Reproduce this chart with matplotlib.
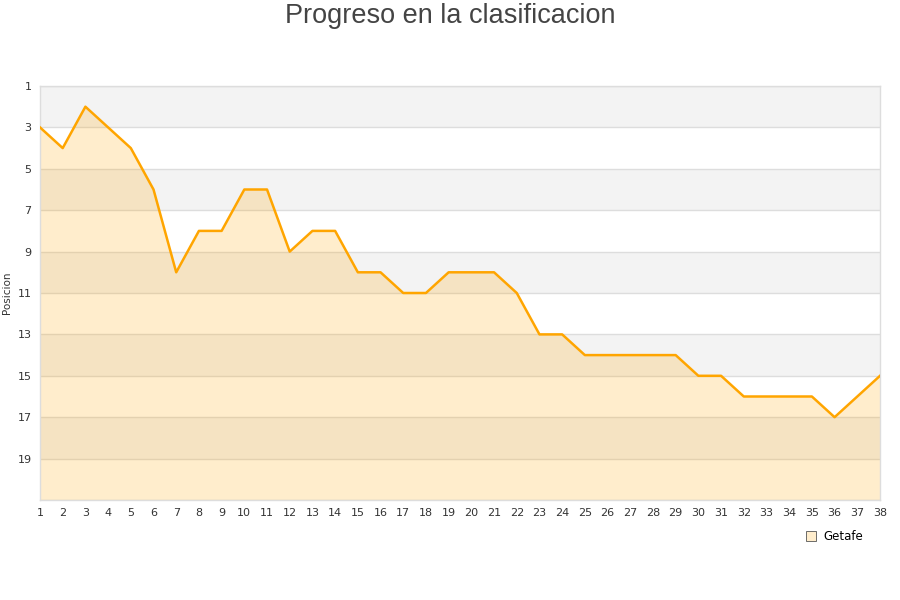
import matplotlib
matplotlib.use("Agg")
import matplotlib.pyplot as plt
from matplotlib.lines import Line2D

jornadas = list(range(1, 39))
posicion = [3, 4, 2, 3, 4, 6, 10, 8, 8, 6, 6, 9, 8, 8, 10, 10, 11, 11, 10, 10,
            10, 11, 13, 13, 14, 14, 14, 14, 14, 15, 15, 16, 16, 16, 16, 17, 16, 15]
y_ticks = [1, 3, 5, 7, 9, 11, 13, 15, 17, 19]
team = "Getafe"
title = "Progreso en la clasificacion"

fig = plt.figure(figsize=(9, 6), dpi=100)
ax = fig.add_axes([40/900, 100/600, 840/900, 414/600])
ax.set_xlim(1, 38)
ax.set_ylim(21, 1)

# alternating bands
for i, y0 in enumerate(range(1, 21, 2)):
    if i % 2 == 0:
        ax.axhspan(y0, y0 + 2, color="#f3f3f3", zorder=0, lw=0)
for y in range(1, 22, 2):
    ax.axhline(y, color="#dddddd", lw=1, zorder=1)

ax.fill_between(jornadas, posicion, 21, color="#ffa500", alpha=0.2, lw=0, zorder=2)
ax.plot(jornadas, posicion, color="#ffa500", lw=1.8, zorder=3)

ax.set_xticks(jornadas)
ax.set_yticks(y_ticks)
ax.tick_params(axis="both", length=0, labelsize=8, colors="#333333", pad=6)
for s in ax.spines.values():
    s.set_color("#dddddd")
    s.set_linewidth(1)
ax.set_ylabel("Posicion", fontsize=7.5, color="#333333", labelpad=4)

fig.text(0.5, 1 - 16/600, title, ha="center", va="center", fontsize=19.5,
         color="#444444", family="Liberation Sans")

handle = Line2D([], [], marker="s", ls="none", markersize=7,
                markerfacecolor="#ffedcc", markeredgecolor="#555555", markeredgewidth=0.6)
fig.legend([handle], [team], loc="center", bbox_to_anchor=(834/900, 1 - 537/600),
           frameon=False, fontsize=8.5, handletextpad=0.5, handlelength=1.0)

fig.savefig("out.png", dpi=100)
